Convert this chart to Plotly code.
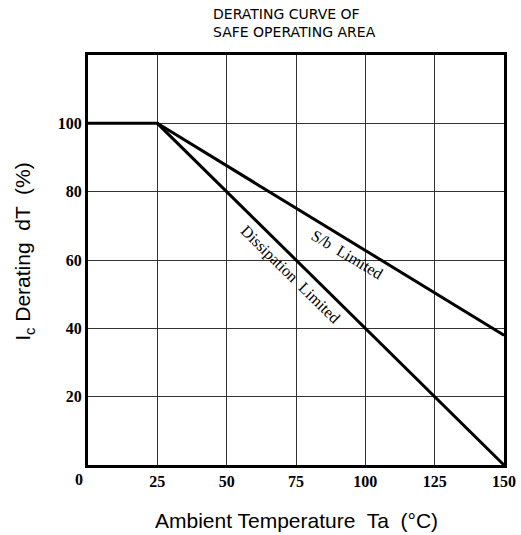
import plotly.graph_objects as go

# Data
diss_x = [0, 25, 150]
diss_y = [100, 100, 0]
sb_x = [25, 150]
sb_y = [100, 38]
x_ticks = [0, 25, 50, 75, 100, 125, 150]
y_ticks = [0, 20, 40, 60, 80, 100]

fig = go.Figure()
fig.add_trace(go.Scatter(x=diss_x, y=diss_y, mode="lines",
                         line=dict(color="black", width=3), showlegend=False))
fig.add_trace(go.Scatter(x=sb_x, y=sb_y, mode="lines",
                         line=dict(color="black", width=3), showlegend=False))

serif = "Liberation Serif"
xt = [v for v in x_ticks if v]
yt = [v for v in y_ticks if v]
fig.update_layout(
    width=521, height=535,
    margin=dict(l=88, r=17, t=55, b=70),
    plot_bgcolor="white", paper_bgcolor="white",
    xaxis=dict(range=[0, 150], tickvals=xt,
               ticktext=["<b>%d</b>" % v for v in xt],
               showgrid=True, gridcolor="#333", gridwidth=1,
               showline=True, linecolor="black", linewidth=3, mirror=True,
               ticks="", zeroline=False, automargin=False,
               tickfont=dict(family=serif, size=16, color="black")),
    yaxis=dict(range=[0, 120], tickvals=yt,
               ticktext=["<b>%d</b>" % v for v in yt],
               showgrid=True, gridcolor="#333", gridwidth=1,
               showline=True, linecolor="black", linewidth=3, mirror=True,
               ticks="", zeroline=False, automargin=False,
               tickfont=dict(family=serif, size=16, color="black")),
)

# shared origin label "0"
fig.add_annotation(text="<b>%d</b>" % x_ticks[0], x=x_ticks[0], y=y_ticks[0],
                   xref="x", yref="y", xshift=-9, yshift=-14, showarrow=False,
                   font=dict(family=serif, size=16, color="black"))

fig.add_annotation(text="DERATING CURVE OF<br>SAFE OPERATING AREA",
                   xref="paper", yref="paper", x=0.296, y=1.0, yshift=51,
                   xanchor="left", yanchor="top", align="left", showarrow=False,
                   font=dict(family="DejaVu Sans", size=14, color="black"))

fig.add_annotation(text="Ambient Temperature  Ta  (°C)",
                   xref="paper", yref="paper", x=0.5, y=0, yshift=-55,
                   xanchor="center", yanchor="middle", showarrow=False,
                   font=dict(family="Liberation Sans", size=21, color="black"))
fig.add_annotation(text="I<sub>c</sub> Derating  dT  (%)",
                   xref="paper", yref="paper", x=0, xshift=-64, y=0.52,
                   xanchor="center", yanchor="middle", textangle=-90, showarrow=False,
                   font=dict(family="Liberation Sans", size=21, color="black"))

fig.add_annotation(text="S/b  Limited", x=93.4, y=61.5, xref="x", yref="y",
                   textangle=31, showarrow=False,
                   font=dict(family=serif, size=16, color="black"))
fig.add_annotation(text="Dissipation  Limited", x=73, y=55.5, xref="x", yref="y",
                   textangle=44.5, showarrow=False,
                   font=dict(family=serif, size=16, color="black"))

fig.write_html("out.html", config={"displayModeBar": False},
               post_script="document.body.style.margin='0px';document.body.style.overflow='hidden';")
